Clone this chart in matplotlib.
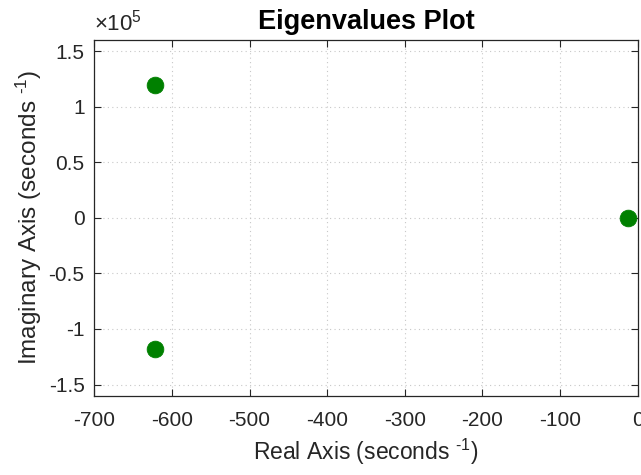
import matplotlib
matplotlib.use("Agg")
import matplotlib.pyplot as plt
from matplotlib.ticker import FuncFormatter

# eigenvalues
real_parts = [-622, -622, -13]
imag_parts = [1.19e5, -1.18e5, 0.0]

x_ticks = [-700, -600, -500, -400, -300, -200, -100, 0]
y_ticks = [-1.5e5, -1e5, -0.5e5, 0, 0.5e5, 1e5, 1.5e5]

plt.rcParams["font.family"] = ["Liberation Sans", "DejaVu Sans"]
plt.rcParams["mathtext.fontset"] = "custom"
plt.rcParams["mathtext.rm"] = "Liberation Sans"
plt.rcParams["mathtext.it"] = "Liberation Sans:italic"

dark = "#262626"

fig = plt.figure(figsize=(6.41, 4.75), dpi=100)
ax = fig.add_axes([0.147, 0.167, 0.848, 0.749])

ax.plot(real_parts, imag_parts, "o", color="#008000", markersize=12,
        markeredgewidth=0.6, clip_on=False, zorder=3)

ax.set_xlim(-700, 0)
ax.set_ylim(-1.6e5, 1.6e5)
ax.set_xticks(x_ticks)
ax.set_yticks(y_ticks)
ax.xaxis.set_major_formatter(FuncFormatter(lambda v, p: f"{v:g}"))
ax.yaxis.set_major_formatter(FuncFormatter(lambda v, p: f"{v / 1e5:g}"))

ax.tick_params(direction="in", top=True, right=True, length=5, width=0.8,
               colors=dark, labelsize=15)
ax.tick_params(axis="x", pad=11)
ax.tick_params(axis="y", pad=7)
for s in ax.spines.values():
    s.set_color(dark)
    s.set_linewidth(0.9)

ax.grid(True, linestyle=(0, (1, 3)), color="#c8c8c8", linewidth=0.8)

ax.set_title("Eigenvalues Plot", fontsize=19.5, fontweight="bold", pad=8)
ax.set_xlabel(r"Real Axis (seconds $^{\text{-1}}$)", fontsize=16.5, color=dark, labelpad=5)
ax.set_ylabel(r"Imaginary Axis (seconds $^{\text{-1}}$)", fontsize=17.5, color=dark, labelpad=3)

ax.text(0.0, 1.012, r"$\times10^{5}$", transform=ax.transAxes, fontsize=16,
        color=dark, ha="left", va="bottom")

fig.savefig("out.png", dpi=100)
